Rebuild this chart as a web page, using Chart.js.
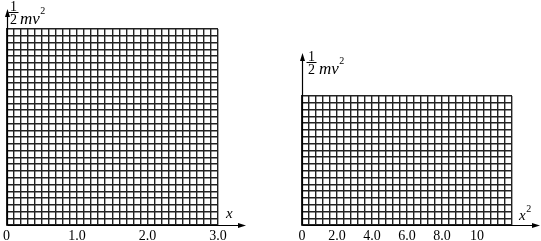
<!DOCTYPE html>
<html>
<head>
<meta charset="utf-8">
<script src="https://cdn.jsdelivr.net/npm/chart.js@4/dist/chart.umd.min.js"></script>
<style>
  html, body { margin: 0; padding: 0; background: #fff; }
  body { width: 541px; height: 241px; position: relative; overflow: hidden; }
  canvas { position: absolute; top: 0; }
  #c1 { left: 0; }
  #c2 { left: 270px; }
</style>
</head>
<body>
<canvas id="c1" width="270" height="241"></canvas>
<canvas id="c2" width="271" height="241"></canvas>
<script>
// ---- data (axis definitions) ----
const leftXMax = 3.0;
const leftXStep = 0.1;
const leftXTickValues = [0, 1, 2, 3];
const leftXTickLabels = ['0', '1.0', '2.0', '3.0'];
const leftYRows = 29;

const rightXMax = 12;
const rightXStep = 0.4;
const rightXTickValues = [0, 2, 4, 6, 8, 10];
const rightXTickLabels = ['0', '2.0', '4.0', '6.0', '8.0', '10'];
const rightYRows = 19;

const GRID = '#222';
const SERIF = "'Liberation Serif', 'Times New Roman', 'DejaVu Serif', serif";

function labelFor(values, labels) {
  return function (v) {
    for (let i = 0; i < values.length; i++) {
      if (Math.abs(values[i] - v) < 1e-6) return labels[i];
    }
    return '';
  };
}

function arrowPlugin(cfg) {
  return {
    id: 'axesArrows',
    afterDraw(chart) {
      const ctx = chart.ctx;
      const xs = chart.scales.x, ys = chart.scales.y;
      const ox = Math.round(xs.getPixelForValue(0)) + 0.5;
      const oy = Math.round(ys.getPixelForValue(0)) + 0.5;
      ctx.save();
      ctx.strokeStyle = '#000';
      ctx.fillStyle = '#000';
      ctx.lineWidth = 1.2;
      // y axis
      ctx.beginPath();
      ctx.moveTo(ox, oy);
      ctx.lineTo(ox, cfg.yTip + 6);
      ctx.stroke();
      ctx.beginPath();
      ctx.moveTo(ox, cfg.yTip);
      ctx.lineTo(ox - 2.5, cfg.yTip + 8);
      ctx.lineTo(ox + 2.5, cfg.yTip + 8);
      ctx.closePath();
      ctx.fill();
      // x axis
      ctx.beginPath();
      ctx.moveTo(ox, oy);
      ctx.lineTo(cfg.xTip - 6, oy);
      ctx.stroke();
      ctx.beginPath();
      ctx.moveTo(cfg.xTip, oy);
      ctx.lineTo(cfg.xTip - 8, oy - 2.5);
      ctx.lineTo(cfg.xTip - 8, oy + 2.5);
      ctx.closePath();
      ctx.fill();
      // y label: 1/2 mv^2
      const L = cfg.yLabel;
      ctx.textBaseline = 'alphabetic';
      ctx.textAlign = 'center';
      ctx.font = '14px ' + SERIF;
      ctx.fillText('1', L.fx, L.bar - 1.5);
      ctx.fillText('2', L.fx, L.bar + 11.5);
      ctx.fillRect(L.fx - 5, L.bar, 10, 1);
      ctx.textAlign = 'left';
      ctx.font = 'italic 17px ' + SERIF;
      ctx.fillText('mv', L.mx, L.bar + 11.5);
      const mw = ctx.measureText('mv').width;
      ctx.font = '10px ' + SERIF;
      ctx.fillText('2', L.mx + mw + 0.5, L.bar + 2);
      // x label
      const X = cfg.xLabel;
      ctx.font = 'italic 15px ' + SERIF;
      ctx.fillText('x', X.x, X.y);
      if (X.sq) {
        const xw = ctx.measureText('x').width;
        ctx.font = '10px ' + SERIF;
        ctx.fillText('2', X.x + xw + 0.5, X.y - 8);
      }
      ctx.restore();
    }
  };
}

function makeChart(id, xMax, xStep, tickVals, tickLabels, rows, padding, cfg) {
  return new Chart(document.getElementById(id), {
    type: 'scatter',
    data: { datasets: [{ data: [] }] },
    options: {
      responsive: false,
      animation: false,
      devicePixelRatio: 1,
      layout: { padding: padding },
      plugins: { legend: { display: false }, tooltip: { enabled: false } },
      scales: {
        x: {
          type: 'linear', min: 0, max: xMax,
          grid: { color: GRID, lineWidth: 1.4, drawTicks: false },
          border: { display: true, color: GRID, width: 1.4 },
          ticks: {
            stepSize: xStep, autoSkip: false, maxRotation: 0, minRotation: 0,
            padding: 3, color: '#000',
            font: { family: SERIF, size: 14 },
            callback: labelFor(tickVals, tickLabels)
          },
          afterFit: (s) => { s.height = 16; }
        },
        y: {
          type: 'linear', min: 0, max: rows,
          grid: { color: GRID, lineWidth: 1.4, drawTicks: false },
          border: { display: true, color: GRID, width: 1.4 },
          ticks: { display: false, stepSize: 1 },
          afterFit: (s) => { s.width = 0; }
        }
      }
    },
    plugins: [arrowPlugin(cfg)]
  });
}

makeChart('c1', leftXMax, leftXStep, leftXTickValues, leftXTickLabels, leftYRows,
  { left: 6, top: 29, right: 52, bottom: 0 },
  { yTip: 9, xTip: 246, yLabel: { fx: 13.5, bar: 12, mx: 20 }, xLabel: { x: 226, y: 218, sq: false } });

makeChart('c2', rightXMax, rightXStep, rightXTickValues, rightXTickLabels, rightYRows,
  { left: 32, top: 96, right: 29, bottom: 0 },
  { yTip: 53, xTip: 270, yLabel: { fx: 41.5, bar: 62, mx: 49 }, xLabel: { x: 249, y: 220, sq: true } });
</script>
</body>
</html>
